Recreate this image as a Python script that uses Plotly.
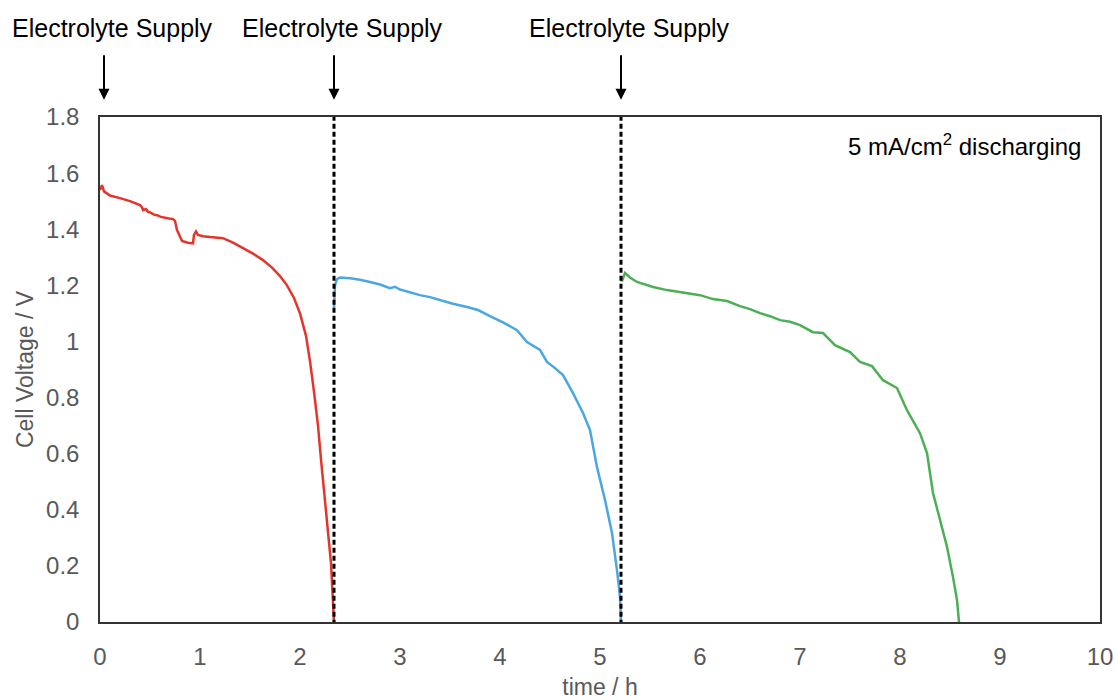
import plotly.graph_objects as go

# Discharge curves at 5 mA/cm2, one per electrolyte charge
t_run1 = [0.00, 0.02, 0.04, 0.10, 0.20, 0.30, 0.40, 0.42, 0.43, 0.46, 0.48, 0.50, 0.54, 0.57,
          0.61, 0.65, 0.69, 0.73, 0.75, 0.77, 0.80, 0.82, 0.88, 0.93, 0.94, 0.96, 0.98, 1.03,
          1.10, 1.23, 1.33, 1.43, 1.53, 1.63, 1.72, 1.80, 1.87, 1.94, 2.00, 2.06, 2.10, 2.14,
          2.18, 2.21, 2.26, 2.31, 2.34]
v_run1 = [1.54, 1.557, 1.535, 1.52, 1.511, 1.50, 1.486, 1.478, 1.468, 1.472, 1.462, 1.46,
          1.452, 1.45, 1.444, 1.44, 1.438, 1.436, 1.43, 1.397, 1.37, 1.358, 1.352, 1.35, 1.38,
          1.392, 1.38, 1.375, 1.372, 1.368, 1.352, 1.333, 1.313, 1.29, 1.263, 1.233, 1.20,
          1.155, 1.10, 1.02, 0.93, 0.82, 0.70, 0.58, 0.40, 0.21, 0.0]

t_run2 = [2.34, 2.35, 2.37, 2.40, 2.50, 2.60, 2.70, 2.80, 2.90, 2.95, 3.00, 3.10, 3.20, 3.30,
          3.40, 3.52, 3.67, 3.78, 3.90, 4.03, 4.17, 4.27, 4.40, 4.47, 4.55, 4.63, 4.73, 4.83,
          4.90, 4.97, 5.05, 5.12, 5.17, 5.20, 5.21]
v_run2 = [1.12, 1.20, 1.222, 1.228, 1.225, 1.22, 1.212, 1.203, 1.19, 1.195, 1.185, 1.175,
          1.165, 1.158, 1.148, 1.135, 1.123, 1.112, 1.09, 1.068, 1.04, 0.998, 0.97, 0.927,
          0.905, 0.88, 0.816, 0.745, 0.684, 0.552, 0.435, 0.317, 0.185, 0.09, 0.0]

t_run3 = [5.21, 5.22, 5.25, 5.30, 5.37, 5.45, 5.53, 5.67, 5.80, 5.87, 6.00, 6.13, 6.27, 6.40,
          6.50, 6.60, 6.70, 6.80, 6.90, 7.00, 7.13, 7.23, 7.35, 7.50, 7.60, 7.72, 7.83, 7.97,
          8.07, 8.20, 8.27, 8.33, 8.40, 8.47, 8.53, 8.57, 8.59]
v_run3 = [1.22, 1.215, 1.244, 1.228, 1.212, 1.203, 1.194, 1.183, 1.175, 1.172, 1.165, 1.151,
          1.144, 1.126, 1.115, 1.101, 1.09, 1.076, 1.07, 1.058, 1.033, 1.03, 0.987, 0.962,
          0.927, 0.912, 0.862, 0.834, 0.755, 0.673, 0.602, 0.46, 0.364, 0.268, 0.16, 0.078, 0.0]

# Times at which fresh electrolyte was supplied
supply_times = [0.0, 2.34, 5.21]
supply_label = "Electrolyte Supply"

FONT = "Liberation Sans, Arial, sans-serif"
GREY = "#595959"

fig = go.Figure()
for t, v, c in [(t_run1, v_run1, "#E5352B"), (t_run2, v_run2, "#4AA7E2"), (t_run3, v_run3, "#4CAF55")]:
    fig.add_trace(go.Scatter(x=t, y=v, mode="lines", line=dict(color=c, width=2.5),
                             showlegend=False, hoverinfo="skip"))

# dotted markers for the refill moments (not at t=0)
for ts in supply_times[1:]:
    fig.add_shape(type="line", xref="x", yref="y", x0=ts, x1=ts, y0=-0.01, y1=1.8,
                  line=dict(color="black", width=3, dash="5px,3px"), layer="above")

# labels with down arrows above the plot
for i, ts in enumerate(supply_times):
    fig.add_annotation(x=ts, xref="x", y=1.034, yref="paper", text="", showarrow=True,
                       arrowhead=2, arrowsize=1.1, arrowwidth=2, arrowcolor="black",
                       ax=0, ay=-46, xshift=4 if i == 0 else 0)
    fig.add_annotation(x=ts, xref="x", y=1.176, yref="paper", text=supply_label,
                       showarrow=False, font=dict(family=FONT, size=25, color="black"),
                       xanchor="center", yanchor="middle", xshift=12 if i == 0 else 8)

fig.add_annotation(x=0.983, xref="paper", y=0.945, yref="paper",
                   text="5 mA/cm<sup>2</sup> discharging", showarrow=False,
                   xanchor="right", yanchor="middle",
                   font=dict(family=FONT, size=24, color="black"))

fig.update_layout(
    width=1115, height=700,
    margin=dict(l=100, r=15, t=117, b=78),
    plot_bgcolor="white", paper_bgcolor="white",
    font=dict(family=FONT, size=24, color=GREY),
)
fig.update_xaxes(range=[0, 10], dtick=1, tick0=0, showgrid=False, zeroline=False,
                 showline=True, linecolor="#333", linewidth=1.5, mirror=True,
                 ticks="", ticklabelstandoff=12, automargin=False,
                 tickfont=dict(size=24, color=GREY),
                 title=dict(text="time / h", font=dict(size=23, color=GREY), standoff=11))
fig.update_yaxes(range=[0, 1.8], dtick=0.2, tick0=0, showgrid=False, zeroline=False,
                 showline=True, linecolor="#333", linewidth=1.5, mirror=True,
                 ticks="", ticklabelstandoff=14, automargin=False,
                 tickfont=dict(size=24, color=GREY),
                 title=dict(text="Cell Voltage / V", font=dict(size=23, color=GREY), standoff=6))

fig.write_html("out.html")
